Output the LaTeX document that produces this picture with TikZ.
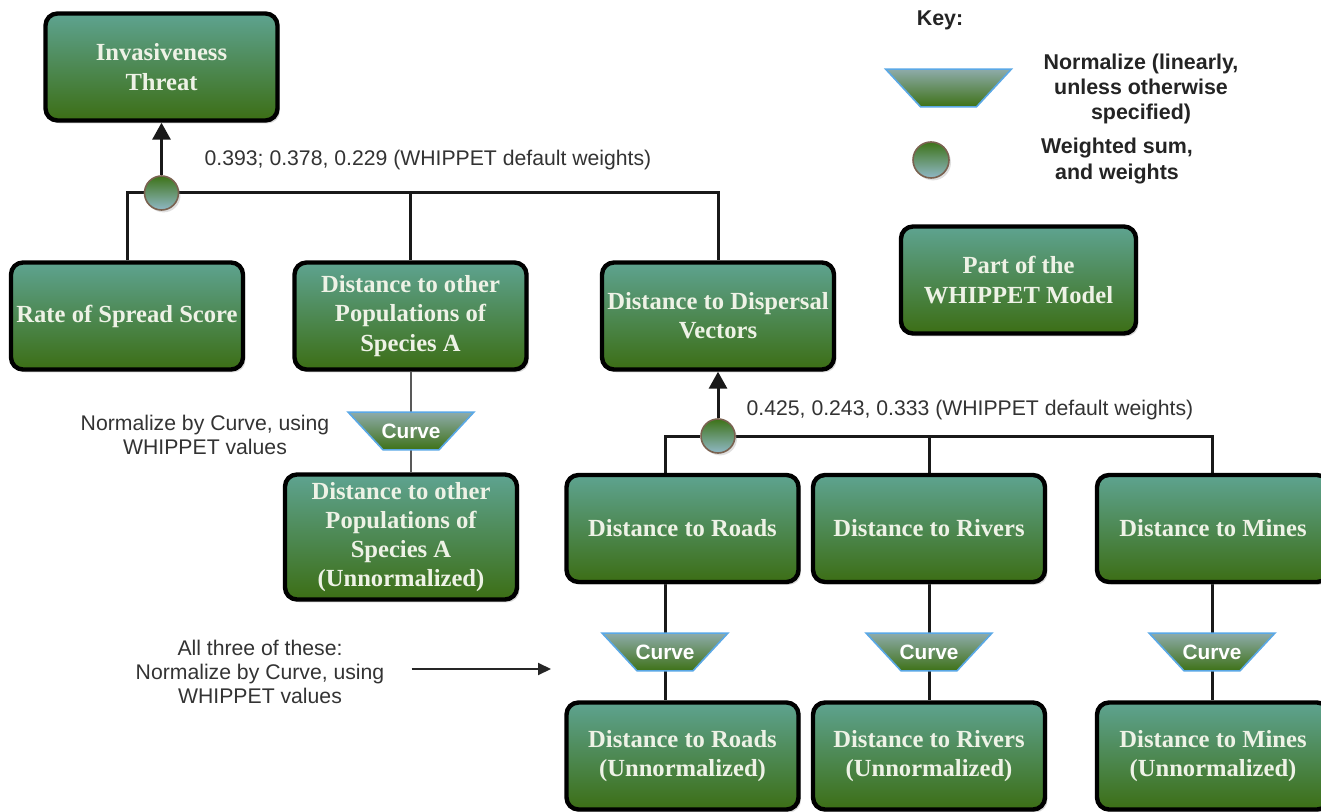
\documentclass[tikz,border=0pt]{standalone}
\usepackage{fontspec}
\setmainfont{Liberation Serif}
\newfontfamily\labelfont{Liberation Sans}
\usetikzlibrary{shadows,arrows.meta,calc,backgrounds}

\definecolor{boxtop}{HTML}{5EA390}
\definecolor{boxbottom}{HTML}{3C6E15}
\definecolor{boxtext}{HTML}{EEF2E6}
\definecolor{traptop}{HTML}{8EABAA}
\definecolor{trapbottom}{HTML}{3E7217}
\definecolor{trapedge}{HTML}{5AA8E6}
\definecolor{sumtop}{HTML}{3D7318}
\definecolor{sumbottom}{HTML}{90B8C6}
\definecolor{sumedge}{HTML}{7A6250}
\definecolor{labelgray}{HTML}{333333}

\tikzset{
  modelbox/.style={rectangle, rounded corners=6pt, line width=2.2pt, draw=black,
    top color=boxtop, bottom color=boxbottom,
    drop shadow={shadow xshift=1.2pt, shadow yshift=-1.4pt, opacity=0.3},
    minimum width=116pt, minimum height=53.5pt, inner sep=1pt, align=center,
    text=boxtext, font=\fontsize{12.3}{14.6}\selectfont\bfseries},
  % the node only carries the label; its funnel outline is drawn behind it
  curvebox/.style={rectangle, minimum width=62.5pt, minimum height=18.5pt, inner sep=0pt,
    text=white, font=\labelfont\fontsize{10.4}{12}\selectfont\bfseries},
  funnel/.style={draw=trapedge, line width=0.8pt, top color=traptop, bottom color=trapbottom},
  sumnode/.style={circle, minimum size=17pt, inner sep=0pt, draw=sumedge, line width=0.8pt,
    top color=sumtop, bottom color=sumbottom,
    drop shadow={shadow xshift=1pt, shadow yshift=-1.2pt, opacity=0.25}},
  note/.style={align=center, text=labelgray, inner sep=0pt,
    font=\labelfont\fontsize{10.6}{12.2}\selectfont},
  keynote/.style={align=center, text=labelgray!70!black, inner sep=0pt,
    font=\labelfont\fontsize{10.7}{12.7}\selectfont\bfseries},
  wire/.style={draw=black!90, line width=1.5pt},
  thinwire/.style={draw=black!65, line width=1pt},
  uparrow/.style={wire, -{Triangle[length=8.5pt,width=9pt]}},
  pointer/.style={draw=black!85, line width=1pt, -{Triangle[length=6.5pt,width=6pt]}}
}

\begin{document}
\begin{tikzpicture}[x=0.5pt, y=-0.5pt]
\clip (0,0) rectangle (1321,812);

% top level of the tree
\node[modelbox] (threat) at (161.5,67) {Invasiveness\\Threat};
\node[sumnode] (sum1) at (161.5,193) {};
\node[modelbox] (rate) at (127,316) {Rate of Spread Score};
\node[modelbox] (other) at (410.5,316) {Distance to other\\Populations of\\Species A};
\node[modelbox] (disp) at (718,316) {Distance to Dispersal\\Vectors};
\node[note, anchor=center] (w1) at (428,160) {0.393; 0.378, 0.229 (WHIPPET default weights)};

% species A branch
\node[curvebox] (c0) at (411,431) {Curve};
\node[modelbox, minimum height=62.5pt] (otherU) at (401,537) {Distance to other\\Populations of\\Species A\\(Unnormalized)};
\node[note] (n1) at (205,435) {Normalize by Curve, using\\WHIPPET values};

% dispersal vectors branch
\node[sumnode] (sum2) at (718,436) {};
\node[note] (w2) at (970,410) {0.425, 0.243, 0.333 (WHIPPET default weights)};
\node[modelbox] (roads) at (682.5,528.5) {Distance to Roads};
\node[modelbox] (rivers) at (929,528.5) {Distance to Rivers};
\node[modelbox] (mines) at (1213,528.5) {Distance to Mines};
\node[curvebox] (c1) at (665,652) {Curve};
\node[curvebox] (c2) at (929,652) {Curve};
\node[curvebox] (c3) at (1212,652) {Curve};
\node[modelbox] (roadsU) at (682.5,756) {Distance to Roads\\(Unnormalized)};
\node[modelbox] (riversU) at (929,756) {Distance to Rivers\\(Unnormalized)};
\node[modelbox] (minesU) at (1213,756) {Distance to Mines\\(Unnormalized)};
\node[note] (n2) at (260,672) {All three of these:\\Normalize by Curve, using\\WHIPPET values};
\coordinate (n2tip) at (551,669);

% key
\node[keynote] (keyhead) at (940,20) {Key:};
\node[curvebox] (keytrap) at (948.5,88) {};
\node[keynote] (keytrapnote) at (1141,89) {Normalize (linearly,\\unless otherwise\\specified)};
\node[sumnode, minimum size=18pt] (keysum) at (931,160) {};
\node[keynote] (keysumnote) at (1117,161) {Weighted sum,\\and weights};
\node[modelbox, minimum width=117.5pt] (keybox) at (1018.5,280) {Part of the\\WHIPPET Model};

% connectors and funnel outlines, under the nodes
\begin{pgfonlayer}{background}
  \fill[white] (0,0) rectangle (1321,812);

  \draw[uparrow] (sum1) -- (threat.south);
  \draw[wire] (sum1) -| (rate.north);
  \draw[wire] (sum1) -| (other.north);
  \draw[wire] (sum1) -| (disp.north);

  \draw[thinwire] (other.south -| c0.north) -- (c0.north);
  \draw[thinwire] (c0.south) -- (c0.south |- otherU.north);

  \draw[uparrow] (sum2) -- (disp.south);
  \draw[wire] (sum2) -| (c1.north |- roads.north);
  \draw[wire] (sum2) -| (rivers.north);
  \draw[wire] (sum2) -| (c3.north |- mines.north);

  \draw[wire] (c1.north |- roads.south) -- (c1.north);
  \draw[wire] (c1.south) -- (c1.south |- roadsU.north);
  \draw[wire] (rivers.south) -- (c2.north);
  \draw[wire] (c2.south) -- (riversU.north);
  \draw[wire] (c3.north |- mines.south) -- (c3.north);
  \draw[wire] (c3.south) -- (c3.south |- minesU.north);

  \foreach \f in {c0,c1,c2,c3,keytrap}
    \path[funnel] (\f.north west) -- (\f.north east)
      -- ([xshift=-17.5pt]\f.south east) -- ([xshift=17.5pt]\f.south west) -- cycle;
\end{pgfonlayer}
\draw[pointer] ([xshift=13.5pt]n2.east |- n2tip) -- (n2tip);
\end{tikzpicture}
\end{document}
